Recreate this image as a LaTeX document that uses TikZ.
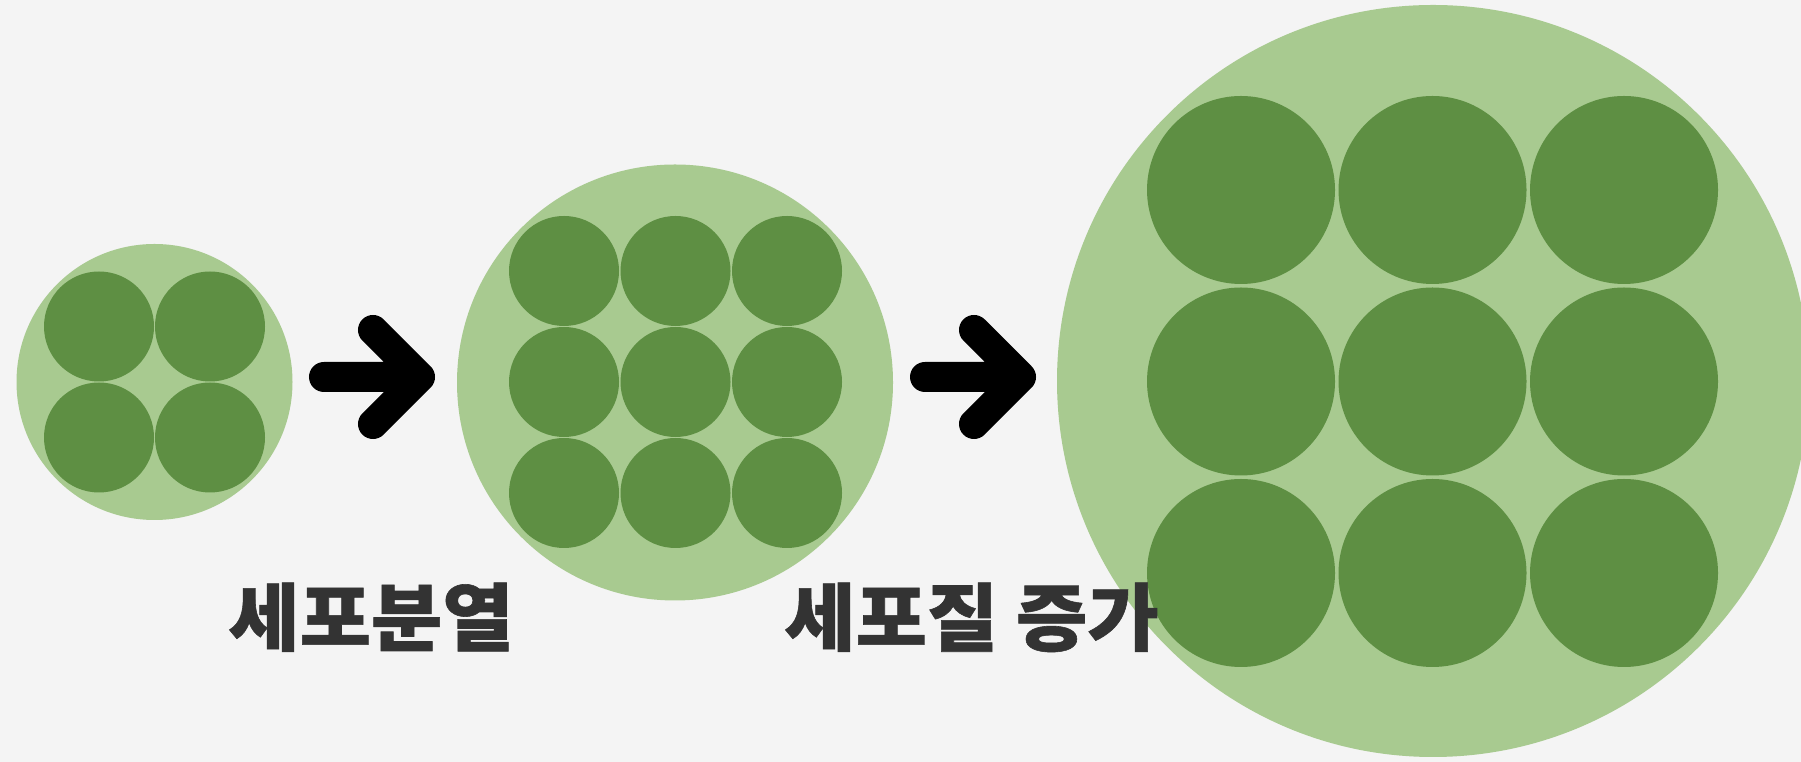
\documentclass[tikz,border=0pt]{standalone}
\usepackage{fontspec}
\usepackage{tikz}
\newfontfamily\krfont{Noto Sans CJK KR}[FakeBold=0.8, FakeStretch=1.05]
\definecolor{bg}{HTML}{F4F4F4}
\definecolor{cellgreen}{HTML}{A8CA90}
\definecolor{partgreen}{HTML}{5E8F43}
\definecolor{labelgray}{HTML}{333333}
\tikzset{
  cellbody/.style={fill=cellgreen, draw=none},
  cellpart/.style={fill=partgreen, draw=none},
  stagearrow/.style={line width=0.3cm, line cap=round, line join=round},
  stagelabel/.style={text=labelgray, anchor=base, font=\krfont\bfseries\fontsize{21}{25}\selectfont}
}
% thick chevron arrow, #1 = left end of the shaft
\def\stagearrow(#1,#2){\draw[stagearrow] (#1,#2) -- ++(96,0) (#1+49,#2-47) -- ++(47,47) -- ++(-47,47);}

\begin{document}
\begin{tikzpicture}[x=0.01cm, y=-0.01cm]
			%%%%% START %%%%%
			\fill[bg] (0,0) rectangle (1801,762);
			\useasboundingbox (0,0) rectangle (1801,762);
			
			% small cell, 2x2
			\fill[cellbody] (154.5,382) circle (138);
			\foreach \i in {0,1}
				\foreach \j in {0,1}
					\fill[cellpart] (99+111*\i, 326.5+111*\j) circle (55);
			
			\stagearrow(324,377)
			
			% divided cell, 3x3
			\fill[cellbody] (675,382.5) circle (218);
			\foreach \i in {0,1,2}
				\foreach \j in {0,1,2}
					\fill[cellpart] (564+111.5*\i, 271+111*\j) circle (55);
			
			\stagearrow(925,377)
			
			% grown cell, 3x3
			\fill[cellbody] (1433,381) circle (376);
			\foreach \i in {0,1,2}
				\foreach \j in {0,1,2}
					\fill[cellpart] (1241+191.5*\i, 190+191.5*\j) circle (94);
			
			\node[stagelabel] (division) at (371,645) {세포분열};
			\node[stagelabel] (growth) at (971.5,645) {세포질 증가};
			%%%%% END %%%%%
		\end{tikzpicture}
\end{document}
